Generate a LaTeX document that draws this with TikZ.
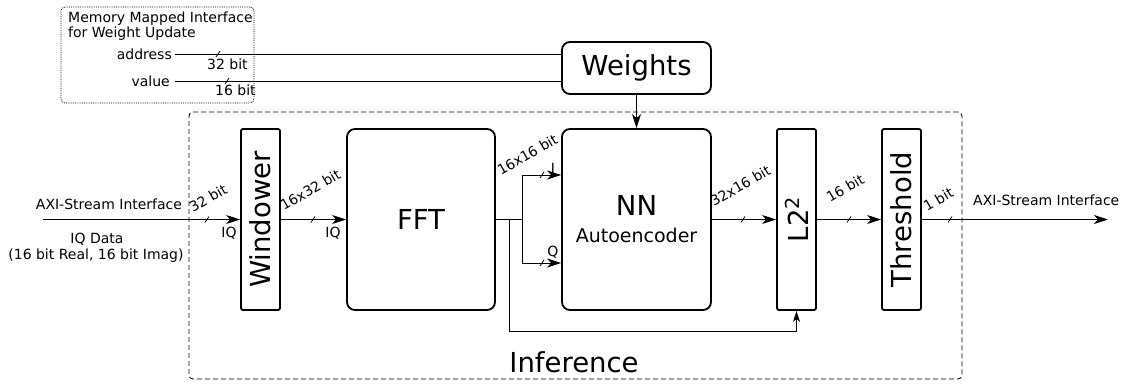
\documentclass[tikz,border=0pt]{standalone}
\usepackage{fontspec}
\setmainfont{DejaVu Sans}
\usetikzlibrary{arrows.meta,calc}
\begin{document}
\begin{tikzpicture}[x=1pt,y=-1pt,
  blk/.style={draw, line width=1.8pt, rounded corners=8pt, inner sep=0pt},
  slim/.style={draw, line width=1.8pt, rounded corners=2pt, inner sep=0pt,
    minimum width=39pt, minimum height=181pt},
  big/.style={font=\fontsize{27.5}{30}\selectfont, inner sep=0pt},
  mid/.style={font=\fontsize{19}{22}\selectfont, inner sep=0pt},
  small/.style={font=\fontsize{14}{16}\selectfont, inner sep=0pt},
  bw/.style={small, rotate=30, anchor=base west},
  wire/.style={line width=1pt},
  flow/.style={wire, -{Stealth[length=14pt,width=9pt,inset=4pt]}},
  thinflow/.style={wire, -{Stealth[length=11pt,width=7pt,inset=3pt]}},
  tickmark/.style={line width=0.8pt},
]
\useasboundingbox (0,0) rectangle (1122,386);

% frames
\node[draw, densely dotted, line width=0.8pt, rounded corners=4pt, inner sep=0pt,
  minimum width=193pt, minimum height=96pt] (mmi) at (157.5,55) {};
\node[draw, dash pattern=on 5pt off 3pt, line width=0.9pt, rounded corners=4pt, inner sep=0pt,
  minimum width=773pt, minimum height=267pt] (inf) at (575.5,245.5) {};
\node[big, anchor=base] (inft) at (574,372) {Inference};

% memory mapped interface
\node[small, anchor=base west] (mm1) at (68,22) {Memory Mapped Interface};
\node[small, anchor=base west] (mm2) at (68,37.5) {for Weight Update};
\node[small, anchor=east] (addr) at (172,54) {address};
\node[small, anchor=east] (val) at (170,81) {value};
\node[small, anchor=base west] (addrw) at (207,69.5) {32 bit};
\node[small, anchor=base west] (valw) at (215,95.5) {16 bit};

% blocks
\node[blk, minimum width=149pt, minimum height=52pt] (wts) at (636.5,68) {};
\node[big] (wtst) at (wts) {Weights};
\node[slim] (win) at (260.5,219.5) {};
\node[big, rotate=90] (wint) at (win) {Windower};
\node[blk, minimum width=148pt, minimum height=181pt] (fft) at (421,219.5) {};
\node[big] (fftt) at (fft) {FFT};
\node[blk, minimum width=149pt, minimum height=181pt] (nn) at (636.5,219.5) {};
\node[big, anchor=base] (nnt) at (636.5,215) {NN};
\node[mid, anchor=base] (nnsub) at (636.5,242) {Autoencoder};
\node[slim] (l2) at (796.5,219.5) {};
\node[big, rotate=90] (l2t) at (l2) {L2\textsuperscript{2}};
\node[slim] (thr) at (901.5,219.5) {};
\node[big, rotate=90] (thrt) at (thr) {Threshold};

% weight update wires
\coordinate (addrs) at (175,54);
\coordinate (vals) at (175,81);
\draw[wire] (addrs) -- (wts.west |- addrs);
\draw[wire] (vals) -- (wts.west |- vals);
\draw[flow] (wts.south) -- (nn.north);

% stream input and output
\coordinate (in) at (43,219.5);
\coordinate (out) at (1108,219.5);
\node[small, anchor=base] (axiin) at (109,209) {AXI-Stream Interface};
\node[small, anchor=base] (iq1) at (97,243) {IQ Data};
\node[small, anchor=base] (iq2) at (96,259.5) {(16 bit Real, 16 bit Imag)};
\node[small, anchor=base west] (axiout) at (973,205) {AXI-Stream Interface};

\draw[flow] (in) -- (win.west);
\draw[flow] (win.east) -- (fft.west);
\draw[flow] (nn.east) -- (l2.west);
\draw[flow] (l2.east) -- (thr.west);
\draw[flow] (thr.east) -- (out);

% FFT output split into I and Q, plus bypass to L2
\coordinate (j1) at (522,219.5);
\coordinate (j2) at (509,219.5);
\coordinate (iy) at (0,175);
\coordinate (qy) at (0,263);
\coordinate (low) at (509,331);
\draw[wire] (fft.east) -- (j1);
\draw[flow] (j1) |- (nn.west |- iy);
\draw[flow] (j1) |- (nn.west |- qy);
\draw[thinflow] (j2) -- (low) -| (l2.south);

% bus width ticks
\foreach \tx/\ty in {218/54, 227/81, 207/219.5, 313/219.5, 542/175, 542/263,
                     743/219.5, 849/219.5, 950/219.5}
  \draw[tickmark] (\tx-2,\ty+3) -- (\tx+2,\ty-3);

% width labels
\node[bw] (w1) at (193,213) {32 bit};
\node[bw] (w2) at (284,211) {16x32 bit};
\node[bw] (w3) at (501,176) {16x16 bit};
\node[bw] (w4) at (714,207) {32x16 bit};
\node[bw] (w5) at (830,203) {16 bit};
\node[bw] (w6) at (927,212) {1 bit};

\node[small, anchor=base] (iqa) at (229,237.5) {IQ};
\node[small, anchor=base] (iqb) at (333,237.5) {IQ};
\node[small, anchor=base] (il) at (553,173) {I};
\node[small, anchor=base] (ql) at (553,256) {Q};
\end{tikzpicture}
\end{document}
